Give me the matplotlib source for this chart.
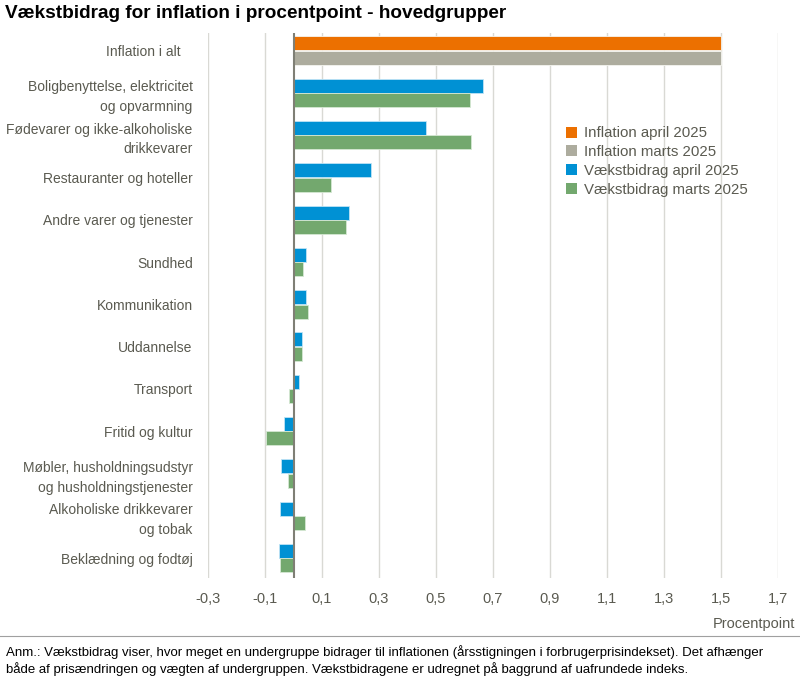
import matplotlib
matplotlib.use("Agg")
import matplotlib.pyplot as plt
import numpy as np
from matplotlib.patches import Patch

# data
categories = [
    "Inflation i alt   ",
    "Boligbenyttelse, elektricitet\nog opvarmning",
    "Fødevarer og ikke-alkoholiske\ndrikkevarer",
    "Restauranter og hoteller",
    "Andre varer og tjenester",
    "Sundhed",
    "Kommunikation",
    "Uddannelse",
    "Transport",
    "Fritid og kultur",
    "Møbler, husholdningsudstyr\nog husholdningstjenester",
    "Alkoholiske drikkevarer\nog tobak",
    "Beklædning og fodtøj",
]
inflation_april = [1.5]
inflation_marts = [1.5]
bidrag_april = [0.665, 0.466, 0.273, 0.194, 0.045, 0.044, 0.029, 0.019,
                -0.032, -0.044, -0.048, -0.050]
bidrag_marts = [0.619, 0.623, 0.132, 0.184, 0.035, 0.050, 0.029, -0.016,
                -0.098, -0.020, 0.042, -0.049]
xticks = [-0.3, -0.1, 0.1, 0.3, 0.5, 0.7, 0.9, 1.1, 1.3, 1.5, 1.7]

ORANGE = "#EC7000"
GREY = "#ADAC9E"
BLUE = "#0091D4"
GREEN = "#73A86E"
TXT = "#5A5A50"

plt.rcParams["font.family"] = ["Liberation Sans", "DejaVu Sans"]

fig = plt.figure(figsize=(8, 6.78), dpi=100)
ax = fig.add_axes([0.26, 0.1475, 0.7125, 0.8035])

h = 0.33
off = 0.17
y = np.arange(len(categories))
ax.barh(y[:1] - off, inflation_april, height=h, color=ORANGE, edgecolor="#F5F5F0", linewidth=0.6, zorder=3)
ax.barh(y[:1] + off, inflation_marts, height=h, color=GREY, edgecolor="#F5F5F0", linewidth=0.6, zorder=3)
ax.barh(y[1:] - off, bidrag_april, height=h, color=BLUE, edgecolor="#BFE3F5", linewidth=0.6, zorder=3)
ax.barh(y[1:] + off, bidrag_marts, height=h, color=GREEN, edgecolor="#D5E8D3", linewidth=0.6, zorder=3)

ax.set_xlim(-0.3, 1.7)
ax.set_ylim(12.47, -0.41)
ax.set_xticks(xticks)
ax.set_xticklabels([f"{t:.1f}".replace(".", ",") for t in xticks],
                   fontsize=10.5, color=TXT)
ax.set_yticks(y)
ax.set_yticklabels(categories, fontsize=10, color=TXT, linespacing=1.5)
ax.tick_params(axis="both", length=0)
ax.tick_params(axis="x", pad=10)
ax.tick_params(axis="y", pad=11)
for lab in ax.get_yticklabels():
    lab.set_horizontalalignment("right")
    lab.set_multialignment("right")

ax.grid(axis="x", color="#D9D9D4", linewidth=1.0, zorder=0)
ax.axvline(0, color="#7F7F75", linewidth=1.5, zorder=4)
for s in ax.spines.values():
    s.set_visible(False)

handles = [Patch(facecolor=c, edgecolor="none") for c in (ORANGE, GREY, BLUE, GREEN)]
leg = ax.legend(handles, ["Inflation april 2025", "Inflation marts 2025",
                          "Vækstbidrag april 2025", "Vækstbidrag marts 2025"],
                loc="upper left", bbox_to_anchor=(0.617, 0.84), frameon=False,
                handlelength=0.75, handleheight=0.75, handletextpad=0.5,
                labelspacing=0.32, borderaxespad=0,
                prop={"size": 10.8})
for t in leg.get_texts():
    t.set_color(TXT)

fig.text(0.006, 0.992, "Vækstbidrag for inflation i procentpoint - hovedgrupper",
         fontsize=13.7, fontweight="bold", va="top", ha="left", color="black")
fig.text(0.994, 0.08, "Procentpoint", fontsize=10.5, color=TXT, ha="right",
         va="center")
fig.add_artist(plt.Line2D([0, 1], [0.062, 0.062], color="#A0A0A0", linewidth=0.8))
fig.text(0.008, 0.048,
         "Anm.: Vækstbidrag viser, hvor meget en undergruppe bidrager til inflationen "
         "(årsstigningen i forbrugerprisindekset). Det afhænger\n"
         "både af prisændringen og vægten af undergruppen. Vækstbidragene er udregnet "
         "på baggrund af uafrundede indeks.",
         fontsize=9.5, va="top", ha="left", color="black", linespacing=1.25)

fig.savefig("out.png", dpi=100)
